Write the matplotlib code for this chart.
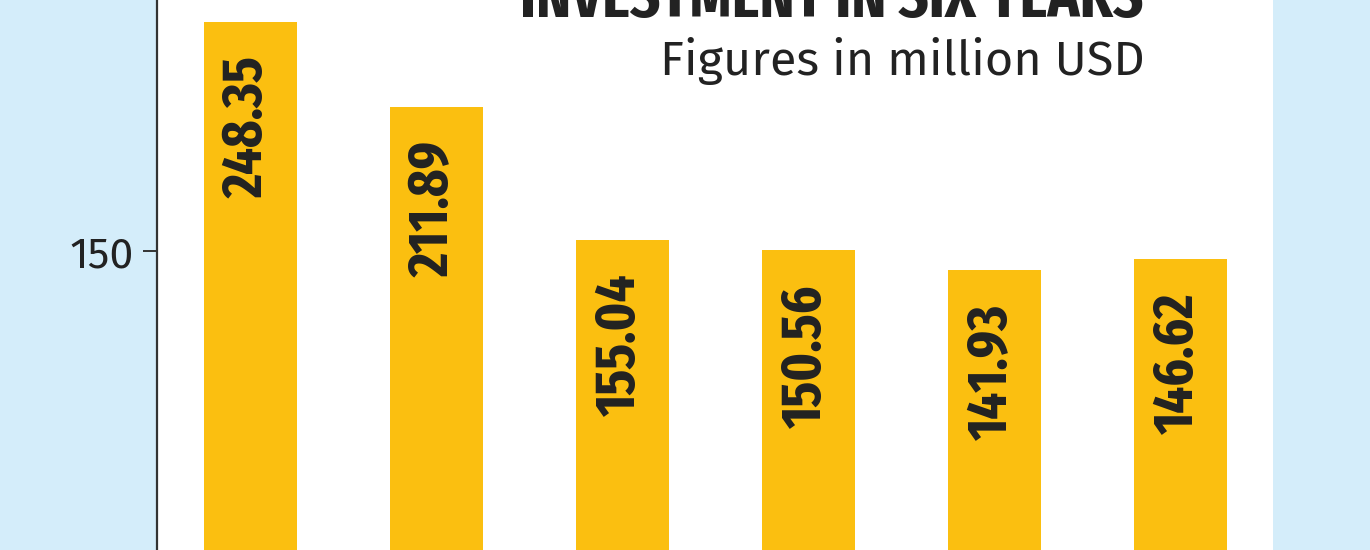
import matplotlib.pyplot as plt
from matplotlib import font_manager

years = ["Y1", "Y2", "Y3", "Y4", "Y5", "Y6"]
investment = [248.35, 211.89, 155.04, 150.56, 141.93, 146.62]
value_labels = ["248.35", "211.89", "155.04", "150.56", "141.93", "146.62"]
yticks = [150]

bg = "#d4edfa"
bar_color = "#fbbf10"
ink = "#222222"


def pick(prefs):
    have = {f.name for f in font_manager.fontManager.ttflist}
    for p in prefs:
        if p in have:
            return [p, "DejaVu Sans"]
    return ["DejaVu Sans"]


cond = pick(["Fira Sans Extra Condensed", "Saira ExtraCondensed",
             "Barlow Condensed", "Roboto Condensed"])
light = pick(["Fira Sans", "Source Sans 3", "Source Sans Pro", "Open Sans"])

fig = plt.figure(figsize=(13.7, 5.5), dpi=100, facecolor=bg)
ax = fig.add_axes([157 / 1370, 0, (1273 - 157) / 1370, 1])
ax.set_facecolor("white")

x = range(len(years))
bars = ax.bar(x, investment, width=0.5, color=bar_color)
ax.set_xlim(-0.5, len(years) - 0.5)
ax.set_ylim(21.9, 257.8)

for rect, lab in zip(bars, value_labels):
    ax.annotate(lab, (rect.get_x() + rect.get_width() / 2, rect.get_height()),
                xytext=(-2, -34), textcoords="offset pixels",
                rotation=90, ha="center", va="top",
                fontsize=41, fontweight="bold", family=cond, color=ink)

for s in ["top", "right", "bottom"]:
    ax.spines[s].set_visible(False)
ax.spines["left"].set_color("#333333")
ax.spines["left"].set_linewidth(1.6)
ax.set_xticks([])
ax.set_yticks(yticks)
ax.tick_params(axis="y", length=10, width=1.4, color="#333333", pad=7,
               labelsize=31, labelcolor=ink)
for t in ax.get_yticklabels():
    t.set_family(light)

fig.text(1143 / 1370, 1 - 17 / 550, "INVESTMENT IN SIX YEARS", ha="right",
         va="baseline", fontsize=46, fontweight="bold", family=cond, color=ink)
fig.text(1145 / 1370, 1 - 75 / 550, "Figures in million USD", ha="right",
         va="baseline", fontsize=35, family=light, color=ink)

fig.savefig("out.png", dpi=100, facecolor=bg)
